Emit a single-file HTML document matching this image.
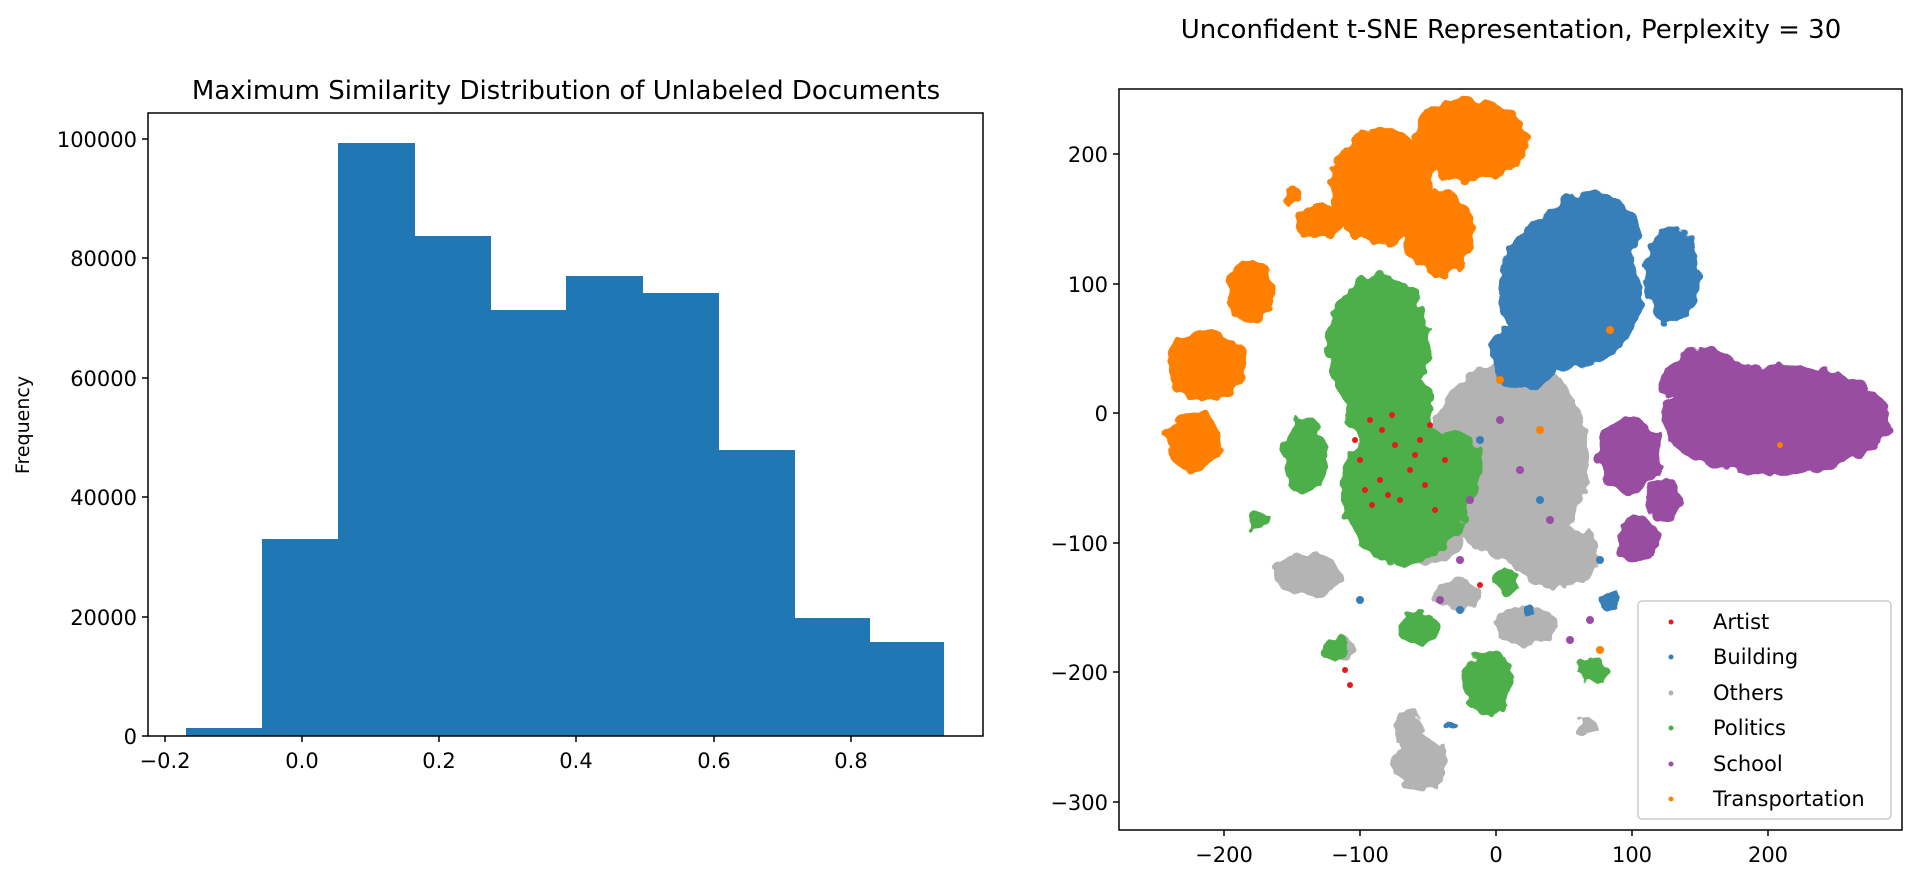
<!DOCTYPE html>
<html><head><meta charset="utf-8"><style>
html,body{margin:0;padding:0;background:#fff;}
svg{display:block;font-family:"DejaVu Sans","Liberation Sans",sans-serif;}
</style></head><body>
<svg width="1920" height="887" viewBox="0 0 1920 887" xmlns="http://www.w3.org/2000/svg">
<defs>
<filter id="rough" x="-10%" y="-10%" width="120%" height="120%">
<feTurbulence type="fractalNoise" baseFrequency="0.07" numOctaves="2" seed="3" result="n"/>
<feDisplacementMap in="SourceGraphic" in2="n" scale="16" xChannelSelector="R" yChannelSelector="G"/>
</filter>
</defs>
<rect width="1920" height="887" fill="#fff"/>
<!-- LEFT HISTOGRAM -->
<text x="566" y="99" font-size="26" text-anchor="middle">Maximum Similarity Distribution of Unlabeled Documents</text>
<g fill="#1f77b4">
<rect x="186" y="728" width="77" height="8"/>
<rect x="262" y="539" width="77" height="197"/>
<rect x="338" y="143" width="77" height="593"/>
<rect x="414" y="236" width="77" height="500"/>
<rect x="490" y="310" width="77" height="426"/>
<rect x="566" y="276" width="77" height="460"/>
<rect x="642" y="293" width="77" height="443"/>
<rect x="718" y="450" width="77" height="286"/>
<rect x="794" y="618" width="76" height="118"/>
<rect x="869" y="642" width="75" height="94"/>
</g>
<rect x="148" y="113" width="835" height="623" fill="none" stroke="#000" stroke-width="1.5"/>
<g stroke="#000" stroke-width="1.5">
<line x1="142" y1="736" x2="148" y2="736"/><line x1="142" y1="617" x2="148" y2="617"/>
<line x1="142" y1="497" x2="148" y2="497"/><line x1="142" y1="378" x2="148" y2="378"/>
<line x1="142" y1="258" x2="148" y2="258"/><line x1="142" y1="139" x2="148" y2="139"/>
<line x1="165" y1="736" x2="165" y2="742"/><line x1="302" y1="736" x2="302" y2="742"/>
<line x1="439" y1="736" x2="439" y2="742"/><line x1="576" y1="736" x2="576" y2="742"/>
<line x1="714" y1="736" x2="714" y2="742"/><line x1="851" y1="736" x2="851" y2="742"/>
</g>
<g font-size="21" text-anchor="end">
<text x="137" y="744">0</text><text x="137" y="625">20000</text><text x="137" y="505">40000</text>
<text x="137" y="386">60000</text><text x="137" y="266">80000</text><text x="137" y="147">100000</text>
</g>
<g font-size="21" text-anchor="middle">
<text x="165" y="768">−0.2</text><text x="302" y="768">0.0</text><text x="439" y="768">0.2</text>
<text x="576" y="768">0.4</text><text x="714" y="768">0.6</text><text x="851" y="768">0.8</text>
</g>
<text x="29" y="425" font-size="19" text-anchor="middle" transform="rotate(-90 29 425)">Frequency</text>

<!-- RIGHT SCATTER -->
<text x="1511" y="38" font-size="26" text-anchor="middle">Unconfident t-SNE Representation, Perplexity = 30</text>
<g filter="url(#rough)">
<!-- grey -->
<g fill="#b3b3b3">
<ellipse cx="1510" cy="460" rx="80" ry="100"/>
<ellipse cx="1555" cy="555" rx="45" ry="32"/>
<ellipse cx="1525" cy="625" rx="32" ry="20"/>
<ellipse cx="1308" cy="575" rx="34" ry="22"/>
<ellipse cx="1420" cy="762" rx="28" ry="28"/>
<ellipse cx="1408" cy="728" rx="16" ry="18"/>
<ellipse cx="1340" cy="650" rx="16" ry="12"/>
<ellipse cx="1588" cy="726" rx="11" ry="8"/>
<ellipse cx="1455" cy="595" rx="22" ry="16"/>
<ellipse cx="1430" cy="540" rx="30" ry="25"/>
</g>
<!-- blue -->
<g fill="#377eb8">
<ellipse cx="1570" cy="290" rx="72" ry="80"/>
<ellipse cx="1590" cy="230" rx="50" ry="38"/>
<ellipse cx="1672" cy="275" rx="28" ry="50"/>
<ellipse cx="1525" cy="355" rx="35" ry="35"/>
<ellipse cx="1610" cy="600" rx="12" ry="10"/>
<ellipse cx="1450" cy="725" rx="7" ry="5"/>
<ellipse cx="1530" cy="610" rx="8" ry="7"/>
</g>
<!-- green -->
<g fill="#4daf4a">
<ellipse cx="1378" cy="345" rx="52" ry="72"/>
<ellipse cx="1390" cy="410" rx="45" ry="40"/>
<ellipse cx="1405" cy="492" rx="65" ry="72"/>
<ellipse cx="1305" cy="455" rx="22" ry="38"/>
<ellipse cx="1488" cy="682" rx="24" ry="34"/>
<ellipse cx="1592" cy="671" rx="16" ry="14"/>
<ellipse cx="1335" cy="650" rx="13" ry="13"/>
<ellipse cx="1455" cy="470" rx="28" ry="38"/>
<ellipse cx="1260" cy="520" rx="10" ry="9"/>
<ellipse cx="1418" cy="628" rx="20" ry="16"/>
<ellipse cx="1505" cy="580" rx="12" ry="12"/>
</g>
<!-- purple -->
<g fill="#984ea3">
<ellipse cx="1776" cy="420" rx="115" ry="55"/>
<ellipse cx="1705" cy="378" rx="45" ry="28"/>
<ellipse cx="1630" cy="455" rx="32" ry="38"/>
<ellipse cx="1638" cy="540" rx="22" ry="23"/>
<ellipse cx="1665" cy="500" rx="18" ry="22"/>
</g>
<!-- orange -->
<g fill="#ff7f00">
<ellipse cx="1470" cy="140" rx="58" ry="42"/>
<ellipse cx="1381" cy="186" rx="52" ry="58"/>
<ellipse cx="1440" cy="233" rx="35" ry="42"/>
<ellipse cx="1318" cy="222" rx="26" ry="16"/>
<ellipse cx="1251" cy="291" rx="24" ry="31"/>
<ellipse cx="1206" cy="365" rx="40" ry="36"/>
<ellipse cx="1194" cy="442" rx="28" ry="30"/>
<ellipse cx="1292" cy="197" rx="9" ry="10"/>
</g>
</g>
<!-- speckles -->
<g fill="#e41a1c">
<circle cx="1370" cy="420" r="3"/><circle cx="1382" cy="430" r="3"/><circle cx="1395" cy="445" r="3"/>
<circle cx="1360" cy="460" r="3"/><circle cx="1410" cy="470" r="3"/><circle cx="1400" cy="500" r="3"/>
<circle cx="1420" cy="440" r="3"/><circle cx="1380" cy="480" r="3"/><circle cx="1435" cy="510" r="3"/>
<circle cx="1345" cy="670" r="3"/><circle cx="1350" cy="685" r="3"/><circle cx="1480" cy="585" r="3"/>
<circle cx="1392" cy="415" r="3"/><circle cx="1445" cy="460" r="3"/><circle cx="1372" cy="505" r="3"/>
<circle cx="1355" cy="440" r="3"/><circle cx="1415" cy="455" r="3"/><circle cx="1388" cy="495" r="3"/>
<circle cx="1430" cy="425" r="3"/><circle cx="1365" cy="490" r="3"/><circle cx="1425" cy="485" r="3"/>
</g>
<g fill="#984ea3">
<circle cx="1500" cy="420" r="4"/><circle cx="1460" cy="560" r="4"/><circle cx="1550" cy="520" r="4"/>
<circle cx="1470" cy="500" r="4"/><circle cx="1520" cy="470" r="4"/><circle cx="1440" cy="600" r="4"/>
<circle cx="1570" cy="640" r="4"/><circle cx="1590" cy="620" r="4"/>
</g>
<g fill="#377eb8">
<circle cx="1480" cy="440" r="4"/><circle cx="1540" cy="500" r="4"/><circle cx="1460" cy="610" r="4"/>
<circle cx="1360" cy="600" r="4"/><circle cx="1600" cy="560" r="4"/>
</g>
<g fill="#ff7f00">
<circle cx="1500" cy="380" r="4"/><circle cx="1540" cy="430" r="4"/><circle cx="1600" cy="650" r="4"/>
<circle cx="1610" cy="330" r="4"/><circle cx="1780" cy="445" r="3"/>
</g>
<rect x="1119" y="89" width="783" height="741" fill="none" stroke="#000" stroke-width="1.5"/>
<g stroke="#000" stroke-width="1.5">
<line x1="1113" y1="154" x2="1119" y2="154"/><line x1="1113" y1="284" x2="1119" y2="284"/>
<line x1="1113" y1="413" x2="1119" y2="413"/><line x1="1113" y1="543" x2="1119" y2="543"/>
<line x1="1113" y1="672" x2="1119" y2="672"/><line x1="1113" y1="802" x2="1119" y2="802"/>
<line x1="1224" y1="830" x2="1224" y2="836"/><line x1="1360" y1="830" x2="1360" y2="836"/>
<line x1="1496" y1="830" x2="1496" y2="836"/><line x1="1632" y1="830" x2="1632" y2="836"/>
<line x1="1768" y1="830" x2="1768" y2="836"/>
</g>
<g font-size="21" text-anchor="end">
<text x="1108" y="162">200</text><text x="1108" y="292">100</text><text x="1108" y="421">0</text>
<text x="1108" y="551">−100</text><text x="1108" y="680">−200</text><text x="1108" y="810">−300</text>
</g>
<g font-size="21" text-anchor="middle">
<text x="1224" y="862">−200</text><text x="1360" y="862">−100</text><text x="1496" y="862">0</text>
<text x="1632" y="862">100</text><text x="1768" y="862">200</text>
</g>
<!-- legend -->
<rect x="1638" y="601" width="253" height="218" rx="4" fill="#fff" fill-opacity="0.8" stroke="#ccc" stroke-width="1.5"/>
<circle cx="1671" cy="622" r="2.5" fill="#e41a1c"/>
<circle cx="1671" cy="657" r="2.5" fill="#377eb8"/>
<circle cx="1671" cy="693" r="2.5" fill="#b3b3b3"/>
<circle cx="1671" cy="728" r="2.5" fill="#4daf4a"/>
<circle cx="1671" cy="764" r="2.5" fill="#984ea3"/>
<circle cx="1671" cy="799" r="2.5" fill="#ff7f00"/>
<g font-size="21">
<text x="1713" y="629">Artist</text><text x="1713" y="664">Building</text><text x="1713" y="700">Others</text>
<text x="1713" y="735">Politics</text><text x="1713" y="771">School</text><text x="1713" y="806">Transportation</text>
</g>
</svg>
</body></html>
